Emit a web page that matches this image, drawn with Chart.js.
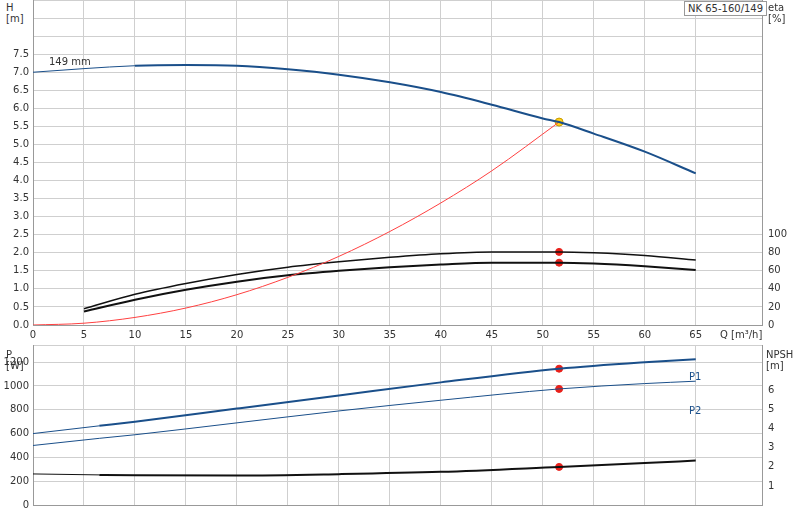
<!DOCTYPE html>
<html><head><meta charset="utf-8">
<script src="https://cdn.jsdelivr.net/npm/chart.js@4/dist/chart.umd.min.js"></script>
<style>
body{margin:0;width:800px;height:520px;background:#fff;position:relative;font-family:"DejaVu Sans",sans-serif;font-size:10px;color:#333;overflow:hidden}
.c{position:absolute;left:0}
.t{position:absolute;font-size:10px;color:#333;line-height:11px}
</style></head><body>
<div class="c" style="top:-12px;width:800px;height:357px"><canvas id="top"></canvas></div>
<div class="c" style="top:333px;width:800px;height:187px"><canvas id="bot"></canvas></div>
<div class="t" style="left:6px;top:2px;background:#fff">H<br>[m]</div>
<div class="t" style="left:768px;top:2px">eta<br>[%]</div>
<div class="t" style="left:684px;top:1px;border:1px solid #999;background:#fff;padding:1px 3px">NK 65-160/149</div>
<div class="t" style="left:49px;top:56px">149 mm</div>
<div class="t" style="left:720px;top:329px">Q [m³/h]</div>
<div class="t" style="left:6px;top:349px">P<br>[W]</div>
<div class="t" style="left:766px;top:349px">NPSH<br>[m]</div>
<div class="t" style="left:689px;top:371px;color:#1a4f8a">P1</div>
<div class="t" style="left:689px;top:405px;color:#1a4f8a">P2</div>
<script>
const qH=[0,5,10,15,20,25,30,35,40,45,50,51.6,55,60,65];
const hVals=[7.0,7.1,7.18,7.2,7.18,7.08,6.93,6.72,6.45,6.1,5.72,5.62,5.3,4.8,4.2];
const qSys=[0,5,10,15,20,25,30,35,40,45,51.6];
const sysVals=[0,0.05,0.21,0.47,0.84,1.32,1.9,2.59,3.38,4.27,5.62];
const qEta=[5,10,15,20,25,30,35,40,45,51.6,55,60,65];
const eta1=[18,34,46,56,64,70,75,79,81,81,80,77,72];
const eta2=[15,28,39,48,55,60,64,67,69,69,68,65,61];
const qP=[0,6.5,10,20,30,40,51.6,60,65];
const p1=[600,665,700,810,920,1030,1145,1200,1225];
const p2=[500,560,590,690,790,880,975,1020,1040];
const npsh=[1.63,1.58,1.56,1.55,1.62,1.74,2.0,2.2,2.33];
const dutyQ=51.6;
const xy=(xs,ys)=>xs.map((x,i)=>({x,y:ys[i]}));
const blue='#1a4f8a';
Chart.defaults.font.family='"DejaVu Sans",sans-serif';
Chart.defaults.font.size=10;
Chart.defaults.color='#333';
const grid={color:'#cfcfcf',drawTicks:false};
const thin=ctx=>ctx.p0.parsed.x<6?1:2;
function line(data,color,w,yID,extra){return Object.assign({data,borderColor:color,borderWidth:w,pointRadius:0,yAxisID:yID,cubicInterpolationMode:'monotone',fill:false},extra||{});}
new Chart(document.getElementById('top'),{type:'line',
data:{datasets:[
 line(xy(qH,hVals),blue,2,'h',{segment:{borderWidth:thin}}),
 line(xy(qSys,sysVals),'#ff4040',1,'h'),
 line(xy(qEta,eta1),'#111',1.5,'e'),
 line(xy(qEta,eta2),'#111',2,'e'),
 {type:'scatter',data:[{x:dutyQ,y:81},{x:dutyQ,y:69}],yAxisID:'e',pointRadius:3.5,backgroundColor:'#e8201a',borderColor:'#e8201a'},
 {type:'scatter',data:[{x:dutyQ,y:5.62}],yAxisID:'h',pointRadius:4,backgroundColor:'#ffd21a',borderColor:'#c89a00',borderWidth:1}
]},
options:{animation:false,responsive:true,maintainAspectRatio:false,
plugins:{legend:{display:false},tooltip:{enabled:false}},
layout:{padding:0},
scales:{
 x:{type:'linear',min:0,max:71.5,grid:grid,border:{color:'#999'},afterFit:s=>{s.height=20},
   ticks:{stepSize:5,padding:4,callback:v=>v<=65?v:''}},
 h:{position:'left',min:0,max:9,grid:grid,border:{color:'#999'},afterFit:s=>{s.width=33},
   ticks:{stepSize:0.5,padding:4,callback:v=>v<=7.5?v.toFixed(1):''}},
 e:{position:'right',min:0,max:360,grid:{display:false,drawTicks:false},border:{color:'#999'},afterFit:s=>{s.width=38},
   ticks:{stepSize:20,padding:6,callback:v=>v<=100?v:''}}
}}});
new Chart(document.getElementById('bot'),{type:'line',
data:{datasets:[
 line(xy(qP,p1),blue,2,'p',{segment:{borderWidth:thin}}),
 line(xy(qP,p2),blue,1,'p'),
 line(xy(qP,npsh),'#111',2,'n',{segment:{borderWidth:thin}}),
 {type:'scatter',data:[{x:dutyQ,y:1145},{x:dutyQ,y:975}],yAxisID:'p',pointRadius:3.5,backgroundColor:'#e8201a',borderColor:'#e8201a'},
 {type:'scatter',data:[{x:dutyQ,y:2.0}],yAxisID:'n',pointRadius:3.5,backgroundColor:'#e8201a',borderColor:'#e8201a'}
]},
options:{animation:false,responsive:true,maintainAspectRatio:false,
plugins:{legend:{display:false},tooltip:{enabled:false}},
layout:{padding:0},
scales:{
 x:{type:'linear',min:0,max:71.5,grid:grid,border:{color:'#999'},afterFit:s=>{s.height=15},
   ticks:{stepSize:5,display:false}},
 p:{position:'left',min:0,max:1344,grid:grid,border:{color:'#999'},afterFit:s=>{s.width=33},
   ticks:{stepSize:200,padding:4,callback:v=>v<=1200?v:''}},
 n:{position:'right',min:0,max:8.4,grid:{display:false,drawTicks:false},border:{color:'#999'},afterFit:s=>{s.width=38},
   ticks:{stepSize:1,padding:6,callback:v=>(v>=1&&v<=6)?v:''}}
}}});
</script></body></html>
